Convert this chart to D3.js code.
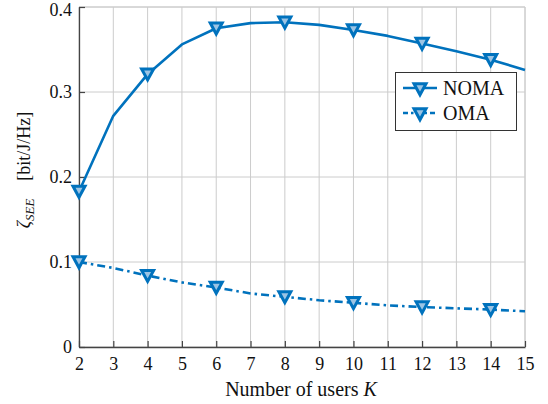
<!DOCTYPE html>
<html><head><meta charset="utf-8">
<script src="https://cdn.jsdelivr.net/npm/d3@7/dist/d3.min.js"></script>
<style>body{margin:0;background:#fff;} svg{display:block;} text{font-family:"Liberation Serif","Tinos","Nimbus Roman","Times New Roman","DejaVu Serif",serif;}</style>
</head><body>
<svg id="c" width="548" height="404"></svg>
<script>
const users = [2,3,4,5,6,7,8,9,10,11,12,13,14,15];
const noma = [0.183,0.272,0.321,0.356,0.375,0.381,0.382,0.379,0.373,0.366,0.357,0.348,0.338,0.326];
const oma  = [0.100,0.093,0.084,0.076,0.070,0.063,0.059,0.055,0.052,0.049,0.047,0.0455,0.044,0.042];
const markerUsers = [2,4,6,8,10,12,14];
const xTicks = [2,3,4,5,6,7,8,9,10,11,12,13,14,15];
const yTicks = [0,0.1,0.2,0.3,0.4];
const yTickLabels = ["0","0.1","0.2","0.3","0.4"];
const seriesNames = ["NOMA","OMA"];

const blue = "#0072BD";
const svg = d3.select("#c");
const L = 79, R = 525, T = 7, B = 347;
const x = d3.scaleLinear().domain([2,15]).range([L,R]);
const y = d3.scaleLinear().domain([0,0.4]).range([B,T]);

// grid
const g = svg.append("g");
g.selectAll(".gx").data(xTicks).join("line")
  .attr("x1",d=>x(d)).attr("x2",d=>x(d)).attr("y1",T).attr("y2",B)
  .attr("stroke","#cccccc").attr("stroke-width",1);
g.selectAll(".gy").data(yTicks).join("line")
  .attr("y1",d=>y(d)).attr("y2",d=>y(d)).attr("x1",L).attr("x2",R)
  .attr("stroke","#cccccc").attr("stroke-width",1);
g.append("line").attr("x1",L).attr("x2",R).attr("y1",T).attr("y2",T).attr("stroke","#cccccc");
g.append("line").attr("x1",R).attr("x2",R).attr("y1",T).attr("y2",B).attr("stroke","#cccccc");

// axes
const xAxis = d3.axisBottom(x).tickValues(xTicks).tickSizeInner(-6).tickSizeOuter(0).tickPadding(10).tickFormat(d3.format("d"));
const yAxis = d3.axisLeft(y).tickValues(yTicks).tickSizeInner(-6).tickSizeOuter(0).tickPadding(7).tickFormat((d,i)=>yTickLabels[i]);
const gx = svg.append("g").attr("transform",`translate(0,${B})`).call(xAxis);
const gy = svg.append("g").attr("transform",`translate(${L},0)`).call(yAxis);
[gx,gy].forEach(a=>{
  a.attr("font-family",null);
  a.select(".domain").attr("stroke","#444").attr("stroke-width",1.3);
  a.selectAll(".tick line").attr("stroke","#444").attr("stroke-width",1.2);
  a.selectAll(".tick text").attr("font-size",18).attr("fill","#111");
});
gx.selectAll(".tick text").attr("dy","0.72em");
gy.selectAll(".tick text").attr("dy","0.33em");
gy.selectAll(".tick").filter(d=>d===0.4).select("text").attr("dy","0.45em");

// lines
const line = d3.line().x((d,i)=>x(users[i])).y(d=>y(d));
svg.append("path").datum(noma).attr("d",line).attr("fill","none")
  .attr("stroke",blue).attr("stroke-width",2.6).attr("stroke-linejoin","round");
svg.append("path").datum(oma).attr("d",line).attr("fill","none")
  .attr("stroke",blue).attr("stroke-width",2.6).attr("stroke-dasharray","8,4,2.5,4");

// markers
const tri = "M-6,-5.2 L6,-5.2 L0,5.8 Z";
function markers(vals){
  svg.append("g").selectAll("path").data(markerUsers).join("path")
    .attr("d",tri)
    .attr("transform",k=>`translate(${x(k)},${y(vals[users.indexOf(k)])})`)
    .attr("fill","#9cc4e4").attr("stroke",blue).attr("stroke-width",3).attr("stroke-linejoin","miter");
}
markers(noma); markers(oma);

// legend
const lg = svg.append("g");
lg.append("rect").attr("x",395.5).attr("y",72.5).attr("width",121).attr("height",58)
  .attr("fill","#fff").attr("stroke","#333").attr("stroke-width",1);
seriesNames.forEach((n,i)=>{
  const cy = 88 + i*25;
  lg.append("line").attr("x1",403).attr("x2",437).attr("y1",cy).attr("y2",cy)
    .attr("stroke",blue).attr("stroke-width",2.6)
    .attr("stroke-dasharray", i===1 ? "5,3,2.5,3" : null);
  lg.append("path").attr("d",tri).attr("transform",`translate(420,${cy+1})`)
    .attr("fill","#9cc4e4").attr("stroke",blue).attr("stroke-width",3);
  lg.append("text").attr("x",443).attr("y",cy+7).text(n)
    .attr("font-size",20).attr("fill","#111");
});

// axis labels
svg.append("text").attr("x",(L+R)/2-1).attr("y",396).attr("text-anchor","middle")
  .attr("font-size",20).attr("fill","#111")
  .html('Number of users <tspan font-style="italic">K</tspan>');
const yl = svg.append("text").attr("transform","translate(30,170) rotate(-90)")
  .attr("text-anchor","middle").attr("font-size",18).attr("fill","#111");
yl.append("tspan").attr("font-style","italic").text("ζ");
yl.append("tspan").attr("font-style","italic").attr("font-size",13).attr("dy",4).text("SEE");
yl.append("tspan").attr("dy",-4).text("\u2003[bit/J/Hz]");
</script>
</body></html>
